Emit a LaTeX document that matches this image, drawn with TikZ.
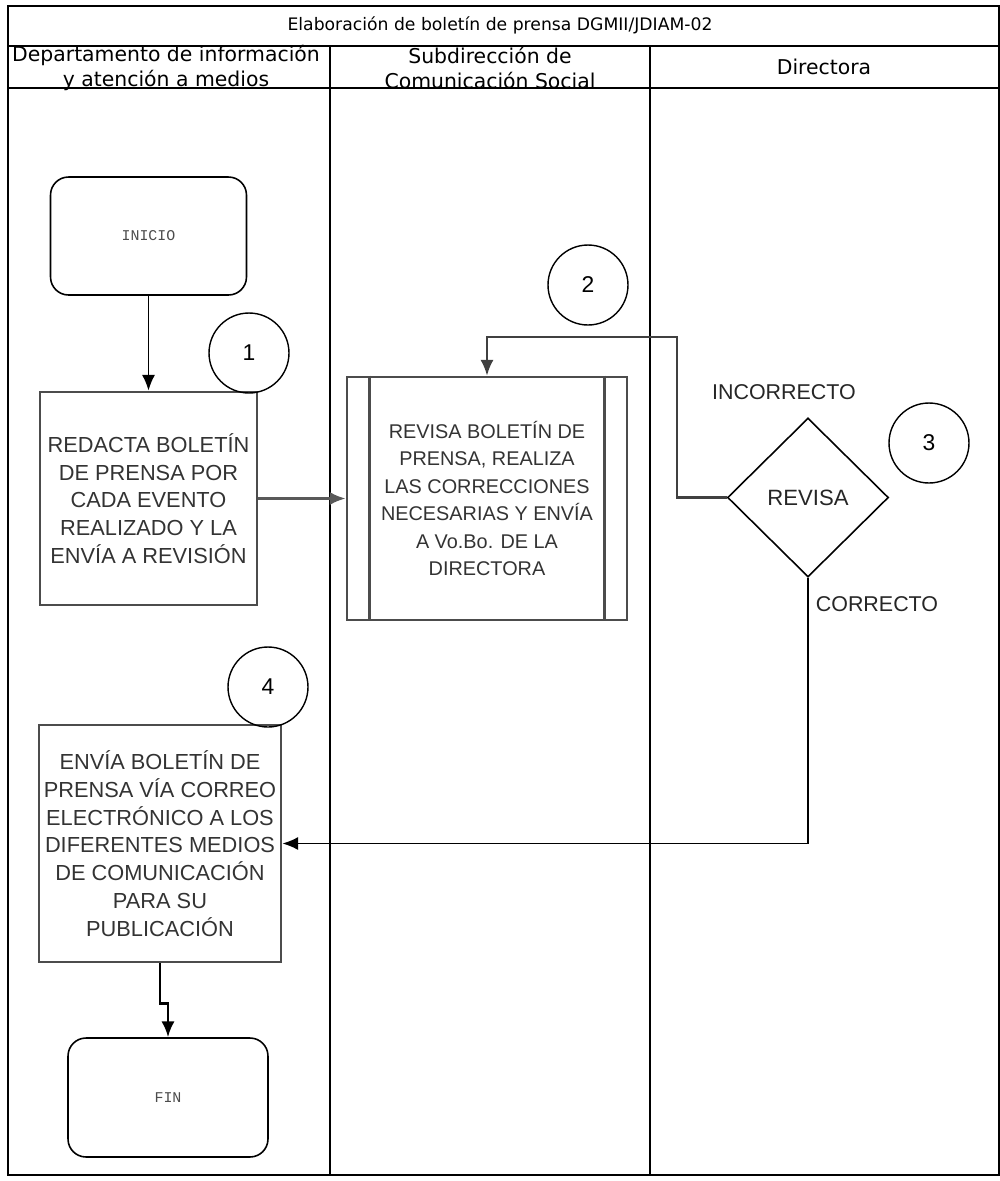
\documentclass[tikz,border=0pt]{standalone}
\usepackage{fontspec}
\setmainfont{Liberation Sans}
\setmonofont{Liberation Mono}
\newfontfamily\encabezado{DejaVu Sans}
\usetikzlibrary{shapes.geometric,arrows.meta}

\begin{document}
\begin{tikzpicture}[x=0.02cm, y=-0.02cm,
  caja/.style={draw=black!70, line width=1.6pt, align=center, text=black!80, inner sep=0pt},
  terminal/.style={draw, rounded corners=0.36cm, line width=0.9pt, font=\ttfamily\fontsize{8.5}{10}\selectfont, text=black!70},
  paso/.style={draw, circle, minimum size=1.6cm, inner sep=0pt, line width=0.8pt, font=\fontsize{13}{15}\selectfont},
  etiqueta/.style={font=\fontsize{12.2}{14}\selectfont, text=black!85},
  carrilnom/.style={align=center, font=\encabezado\fontsize{11.6}{14.2}\selectfont},
  flecha/.style={->, >={Latex[length=9pt,width=7.5pt]}, line width=1pt},
  carril/.style={line width=0.8pt}]
\useasboundingbox (0,0) rectangle (1000,1181);
\node[font=\encabezado\fontsize{9.8}{11}\selectfont] (titulo) at (500,25) {Elaboración de boletín de prensa DGMII/JDIAM-02};
\node[carrilnom] (depto) at (166,68) {Departamento de información\\y atención a medios};
\node[carrilnom] (subdir) at (490,68) {Subdirección de\\Comunicación Social};
\node[carrilnom] (dir) at (824,67) {Directora};
\draw[carril] (8,6) rectangle (999,1175);
\draw[carril] (8,46) -- (999,46);
\draw[carril] (8,88) -- (999,88);
\draw[carril] (330,46) -- (330,1175);
\draw[carril] (650,46) -- (650,1175);
\node[terminal, minimum width=3.92cm, minimum height=2.36cm] (inicio) at (148.5,236) {INICIO};
\node[caja, minimum width=4.34cm, minimum height=4.26cm, font=\fontsize{12.4}{15.8}\selectfont] (redacta) at (148.5,498.5) {REDACTA BOLETÍN\\DE PRENSA POR\\CADA EVENTO\\REALIZADO Y LA\\ENVÍA A REVISIÓN};
\node[caja, minimum width=5.6cm, minimum height=4.86cm, font=\fontsize{11.3}{15.6}\selectfont] (revisa) at (487,498.5) {REVISA BOLETÍN DE\\PRENSA, REALIZA\\LAS CORRECCIONES\\NECESARIAS Y ENVÍA\\A Vo.Bo. DE LA\\DIRECTORA};
\draw[black!70, line width=1.4pt] ([xshift=0.48cm]revisa.north west) -- ([xshift=0.48cm]revisa.south west);
\draw[black!70, line width=1.4pt] ([xshift=-0.48cm]revisa.north east) -- ([xshift=-0.48cm]revisa.south east);
\node[draw, diamond, aspect=1, minimum width=3.22cm, minimum height=3.18cm, inner sep=0pt, line width=0.9pt, font=\fontsize{12.6}{14}\selectfont, text=black!85] (decision) at (808,497.5) {REVISA};
\node[caja, minimum width=4.84cm, minimum height=4.74cm, font=\fontsize{12.4}{15.8}\selectfont] (envia) at (160,843.5) {ENVÍA BOLETÍN DE\\PRENSA VÍA CORREO\\ELECTRÓNICO A LOS\\DIFERENTES MEDIOS\\DE COMUNICACIÓN\\PARA SU\\PUBLICACIÓN};
\node[terminal, minimum width=4cm, minimum height=2.38cm] (fin) at (168,1097.5) {FIN};
\node[paso] (uno) at (249,353) {1};
\node[paso] (dos) at (588,285) {2};
\node[paso] (tres) at (929,443) {3};
\node[paso] (cuatro) at (268,687) {4};
\node[etiqueta] (incorrecto) at (784,392) {INCORRECTO};
\node[etiqueta] (correcto) at (877,604) {CORRECTO};
\coordinate (giro) at (677,337);
\draw[flecha] (inicio) -- (redacta);
\draw[flecha, black!65, line width=1.6pt] (redacta) -- (revisa);
\draw[flecha, black!75, line width=1.2pt] (decision.west) -| (giro) -| (revisa.north);
\draw[flecha] (decision.south) |- (envia.east);
\draw[flecha, line width=1.5pt] (envia.south) -- ++(0,40) -| (fin.north);
\end{tikzpicture}
\end{document}
